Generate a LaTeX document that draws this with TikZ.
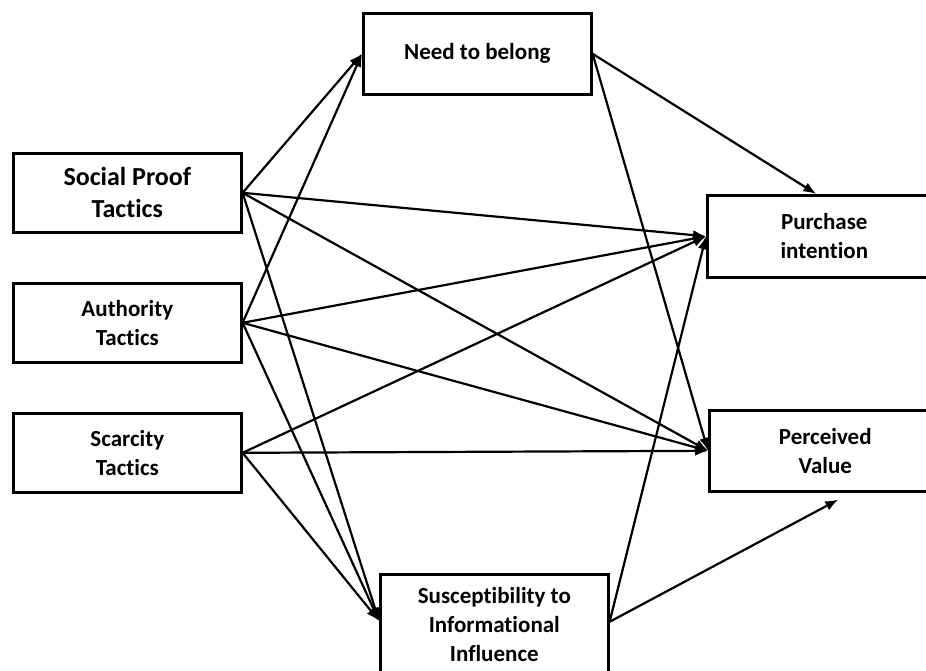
\documentclass[tikz,border=0pt]{standalone}
\usepackage{fontspec}
\setmainfont{Carlito}[Ligatures=CommonOff]
\usetikzlibrary{arrows.meta}
\begin{document}
\begin{tikzpicture}[x=1pt,y=-1pt,
  box/.style={draw,line width=2.6pt,inner sep=0pt,align=center,anchor=north west,
    font=\fontsize{23}{29}\selectfont\bfseries},
  arr/.style={line width=2.2pt,-{Latex[length=13pt,width=10pt]}}]
\useasboundingbox (0,0) rectangle (926,670);
\clip (0,0) rectangle (926,670);
\node[box,minimum width=228pt,minimum height=81pt] (ntb) at (362,12) {Need to belong};
\node[box,minimum width=228pt,minimum height=79pt,font=\fontsize{26}{32}\selectfont\bfseries] (sp) at (12,152) {Social Proof\\Tactics};
\node[box,minimum width=228pt,minimum height=79pt] (au) at (12,282) {Authority\\Tactics};
\node[box,minimum width=228pt,minimum height=79pt] (sc) at (12,412) {Scarcity\\Tactics};
\node[box,minimum width=234pt,minimum height=82pt] (pi) at (706,194) {Purchase\\intention};
\node[box,minimum width=232pt,minimum height=81pt] (pv) at (708,409) {Perceived\\Value};
\node[box,minimum width=228pt,minimum height=101pt] (sii) at (379,573) {Susceptibility to\\Informational\\Influence};
\coordinate (pitop) at ([xshift=-8pt]pi.north);
\coordinate (pvb) at ([xshift=13pt,yshift=-7pt]pv.south);
\coordinate (siiin) at ([yshift=4pt]sii.west);
\coordinate (siiout) at ([yshift=3pt]sii.east);
\draw[arr] (sp.east) -- (ntb.west);
\draw[arr] (au.east) -- (ntb.west);
\draw[arr] (sp.east) -- (pi.west);
\draw[arr] (sp.east) -- (pv.west);
\draw[arr] (sp.east) -- (siiin);
\draw[arr] (au.east) -- (pi.west);
\draw[arr] (au.east) -- (pv.west);
\draw[arr] (au.east) -- (siiin);
\draw[arr] (sc.east) -- (pi.west);
\draw[arr] (sc.east) -- (pv.west);
\draw[arr] (sc.east) -- (siiin);
\draw[arr] (ntb.east) -- (pitop);
\draw[arr] (ntb.east) -- (pv.west);
\draw[arr] (siiout) -- (pi.west);
\draw[arr] (siiout) -- (pvb);
\end{tikzpicture}
\end{document}
